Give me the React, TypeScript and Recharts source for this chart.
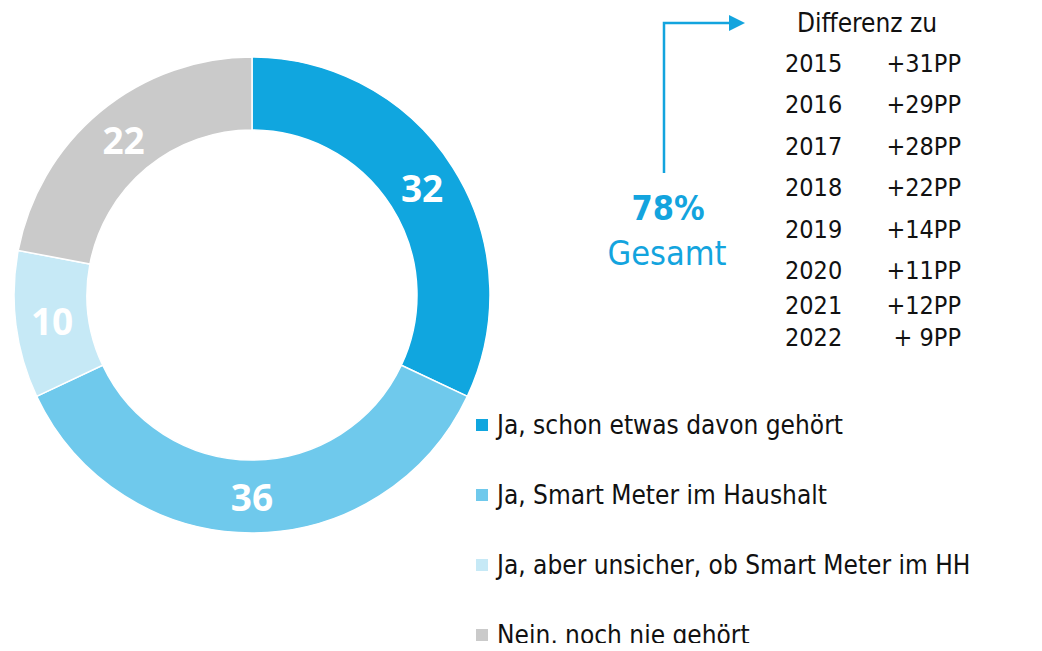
import { Cell, Customized, Pie, PieChart } from "recharts";

const CATEGORIES = [
    "Ja, schon etwas davon gehört",
    "Ja, Smart Meter im Haushalt",
    "Ja, aber unsicher, ob Smart Meter im HH",
    "Nein, noch nie gehört",
];
const SHARES = [32, 36, 10, 22];
const COLORS = ["#10A6DF", "#6FC9EC", "#C6E9F6", "#CACACA"];

const TOTAL_VALUE = "78%";
const TOTAL_CAPTION = "Gesamt";
const DIFF_TITLE = "Differenz zu";
const YEARS = ["2015", "2016", "2017", "2018", "2019", "2020", "2021", "2022"];
const DIFFS = ["+31PP", "+29PP", "+28PP", "+22PP", "+14PP", "+11PP", "+12PP", "+ 9PP"];

// layout of the side table (rows are not evenly spaced in the original)
const ROW_Y = [63, 104, 146, 187, 229, 270, 305, 337];
const FONT = "'DejaVu Sans Condensed', 'DejaVu Sans', sans-serif";
const ACCENT = "#13A4DE";
const RADIAN = Math.PI / 180;

const data = CATEGORIES.map((name, i) => ({ name, value: SHARES[i], color: COLORS[i] }));

function SliceLabel(props: any) {
    const { cx, cy, midAngle, innerRadius, outerRadius, value } = props;
    const r = (innerRadius + outerRadius) / 2;
    const x = cx + r * Math.cos(-midAngle * RADIAN);
    const y = cy + r * Math.sin(-midAngle * RADIAN);
    return (
        <text
            x={x}
            y={y}
            fill="#FFFFFF"
            textAnchor="middle"
            dominantBaseline="central"
            fontFamily="'Open Sans', sans-serif"
            fontWeight={700}
            fontSize={37}
        >
            {value}
        </text>
    );
}

// legend + side table drawn straight into the chart svg
function SideNote() {
    return (
        <g fontFamily={FONT}>
            {data.map((item, i) => (
                <g key={item.name}>
                    <rect x={476} y={419 + i * 70} width={12} height={12} fill={item.color} />
                    <text x={497} y={425 + i * 70} dominantBaseline="central" fill="#111" fontSize={26}>
                        {item.name}
                    </text>
                </g>
            ))}
            <path d="M664 173 V23 H731" fill="none" stroke={ACCENT} strokeWidth={2.5} />
            <path d="M729 15 L745 23 L729 31 Z" fill={ACCENT} />
            <text x={668} y={220} textAnchor="middle" fill={ACCENT} fontSize={34} fontWeight={700}>
                {TOTAL_VALUE}
            </text>
            <text x={667} y={265} textAnchor="middle" fill={ACCENT} fontSize={34}>
                {TOTAL_CAPTION}
            </text>
            <text x={797} y={32} fill="#111" fontSize={26}>
                {DIFF_TITLE}
            </text>
            {YEARS.map((year, i) => (
                <g key={year}>
                    <text x={785} y={ROW_Y[i]} dominantBaseline="central" fill="#111" fontSize={25}>
                        {year}
                    </text>
                    <text x={961} y={ROW_Y[i]} dominantBaseline="central" textAnchor="end" fill="#111" fontSize={25}>
                        {DIFFS[i]}
                    </text>
                </g>
            ))}
        </g>
    );
}

export default function App() {
    return (
        <div style={{ margin: -8, width: 1042, height: 651, background: "#FFFFFF" }}>
            <PieChart width={1042} height={651} margin={{ top: 0, right: 0, bottom: 0, left: 0 }}>
                <Pie
                    data={data}
                    dataKey="value"
                    nameKey="name"
                    cx={252}
                    cy={295}
                    innerRadius={165}
                    outerRadius={238}
                    startAngle={90}
                    endAngle={-270}
                    stroke="#FFFFFF"
                    strokeWidth={1.5}
                    label={SliceLabel}
                    labelLine={false}
                    isAnimationActive={false}
                >
                    {data.map((entry) => (
                        <Cell key={entry.name} fill={entry.color} />
                    ))}
                </Pie>
                <Customized component={SideNote} />
            </PieChart>
        </div>
    );
}
